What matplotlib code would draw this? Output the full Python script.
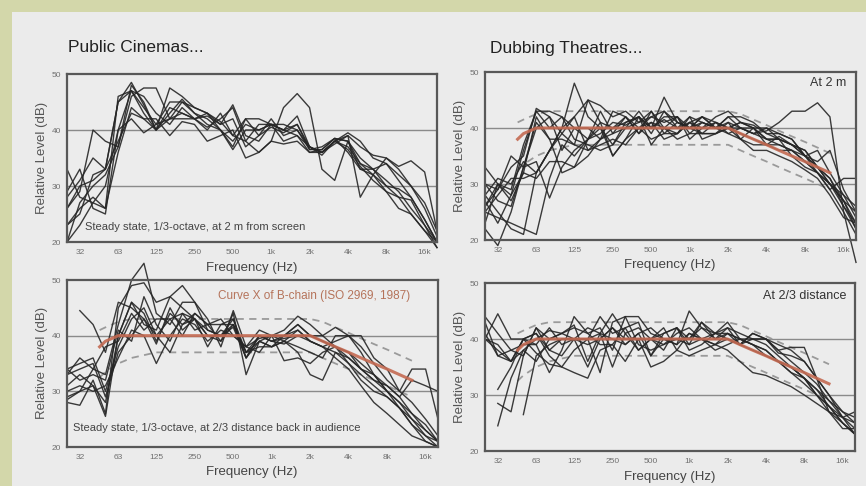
import numpy as np
import matplotlib
matplotlib.use("Agg")
import matplotlib.pyplot as plt
from matplotlib.patches import Rectangle

plt.rcParams['font.family'] = ['Liberation Sans', 'DejaVu Sans']

nan = np.nan
freqs = [25, 31.5, 40, 50, 63, 80, 100, 125, 160, 200, 250, 315, 400, 500, 630,
         800, 1000, 1250, 1600, 2000, 2500, 3150, 4000, 5000, 6300, 8000, 10000,
         12500, 16000, 20000]

tick_freqs = [32, 63, 125, 250, 500, 1000, 2000, 4000, 8000, 16000]
tick_labels = ['32', '63', '125', '250', '500', '1k', '2k', '4k', '8k', '16k']

# Public cinemas, 2 m from screen
cinema_2m = [
    [33, 28, 27, 26, 46, 47, 43, 40, 44, 43, 42, 42.5, 41, 44.5, 39, 38, 41, 41, 40, 36.5, 36.5, 38.5, 38, 34, 33, 31, 29, 26, 23, 19],
    [20, 27, 30, 32, 37, 48, 45, 40, 47.5, 46, 44, 43, 40, 37, 42, 42, 41, 40, 41, 37, 36, 38, 39.5, 38, 35, 34, 31, 28, 24, 20],
    [26, 29, 40, 38, 37, 46, 47.5, 47.5, 42, 43, 42, 43, 41.5, 39, 38, 36, 38, 44, 46.5, 44, 33, 31, 38, 35, 33, 30, 28, 25, 22, 19],
    [23, 25, 32, 33, 45, 47, 44, 41, 45, 45, 43, 42, 40, 38, 41, 40, 41, 40, 39, 37, 36, 38, 39, 28, 32, 35, 33, 30, 26, 21],
    [28, 31, 35, 33, 38, 43, 42, 40, 43, 45.5, 43, 41, 40, 36.5, 40, 40, 41, 40, 42.5, 37, 36, 38, 37, 34, 32, 30, 29.5, 28, 24, 20],
    [23, 26, 28, 26, 36, 44, 42, 42, 39, 41.5, 41, 38, 39, 40, 35, 36, 38, 37.5, 38, 36, 36.5, 38.5, 36, 33, 32, 29, 28, 27.5, 23, 20],
    [26, 30, 31, 33, 45, 48.5, 44.5, 40, 42, 45, 44, 43, 41, 42, 37, 39, 40.5, 39.5, 41, 36.5, 37, 38.5, 38, 33, 33, 34, 32, 30, 27, 22],
    [29, 33, 26, 25, 40, 42, 39.5, 41, 42, 42, 42, 40.5, 42, 44, 38, 41, 41, 38, 39, 36, 36, 37.5, 39, 37, 35.5, 35, 33.5, 34.5, 32.5, 22],
    [20, 23, 27, 30, 40, 47, 46, 43, 41, 44, 42, 40, 43, 39, 42, 39, 42, 39, 40, 37, 35.5, 38, 36.5, 33.5, 31, 29, 26, 25, 22, 20],
]

# Public cinemas, 2/3 distance back
cinema_23 = [
    [nan, 44.5, 42, 37, 46, 45, 43, 40, 43, 44, 43, 41, 40, 41.5, 36, 40, 39, 39.5, 40, 39, 38, 36, 34, 31, 28, 26, 24, 22, 21, 20],
    [33, 36, 34, 33, 42, 50, 53, 44, 42, 46, 46, 41, 40, 43, 37, 39, 38, 40, 42, 40, 39, 38, 37, 34, 32, 30, 28, 25, 22, 21],
    [28, 27.5, 32, 26, 45, 49, 49.5, 46, 47, 49, 46, 43, 38, 44.5, 38, 41, 40, 41, 43.5, 42, 40, 38, 35, 32, 30, 29, 27, 24, 21, 20],
    [34, 35, 36, 30, 38, 43, 45, 40, 37, 42, 44, 42, 42, 42, 37, 40, 39, 38.5, 40, 40, 40, 41.5, 40, 40, 36, 34, 30, 34, 34, 25],
    [31, 33, 31, 28, 40, 46, 42, 41, 47, 45, 43, 40, 39, 44, 33, 39, 40, 39, 37, 33, 32, 37, 35, 33, 31, 29, 27, 25, 23, 21],
    [30, 31, 30, 31, 36, 41, 40, 35, 40, 43, 42, 39, 41, 40, 38, 37, 40, 35.5, 36, 35, 37, 38, 36, 34, 32, 31, 29, 32, 31, 30],
    [28.5, 30, 34, 38, 39, 44, 41, 43, 43, 40, 44, 42, 39, 42, 37, 38, 38, 39, 41, 39, 38, 37, 36, 34, 33, 30, 28, 26, 24, 21],
    [34, 32, 33, 32, 41, 39, 47, 42, 39, 44, 41, 42, 43, 40, 38, 39.5, 40, 40, 41, 39, 38, 39, 40, 38, 35, 32, 30, 28, 25, 22],
    [33, 34, 35, 29, 37, 40, 43, 38.5, 45, 41, 43, 40, 40, 42, 36, 40, 39, 40, 42, 40, 39, 38, 37, 35, 33, 31, 29, 26, 23, 21],
    [29, 30, 31, 25.5, 40, 46, 44, 39, 44, 42, 43, 38, 42, 43, 36, 39, 38, 39, 38, 37, 36, 40, 40, 37, 33, 30, 27, 24, 22, 20],
]

# Dubbing theatres, 2 m
dubbing_2m = [
    [33, 30, 28, 36, 43, 43, 42, 40, 38, 39, 41, 40.5, 42, 40, 41.5, 40, 42, 41, 40, 41, 40, 39, 39.5, 41, 43, 43, 44.5, 42, 25, 16],
    [26, 29, 33, 35, 43.5, 42, 39, 37, 45, 44, 42, 43, 41, 42, 43, 40, 41, 40, 42, 43, 41, 40, 38, 38, 37, 35, 33, 30, 28, 24],
    [28, 25, 22, 21, 32, 36, 40, 48, 42, 40, 37, 40, 43, 40, 45.5, 41, 40, 42, 41, 39, 40, 39, 38, 37, 36, 34, 32, 30, 27, 22],
    [23, 30, 27, 32, 42, 38, 32, 33, 35, 38, 40, 42, 39, 43, 40, 39, 41, 42, 40, 42, 42, 41, 39, 38, 37, 36, 33, 31, 27, 23],
    [30, 29, 35, 33, 34, 27.5, 33, 36, 38, 41, 35, 38, 40, 41, 40, 42, 38, 40, 41, 40, 39, 38, 37, 38.5, 37, 35, 34, 36, 29, 25],
    [25, 28, 31, 31, 32, 36, 40, 42, 45, 41, 40, 41, 42, 40, 42, 42, 40, 42, 40, 40, 41, 40.5, 39, 39, 38, 35, 33, 30, 26, 23],
    [22, 19, 25, 33, 41, 38, 38, 37, 36, 38, 43, 42, 39, 41, 38, 39, 41, 39, 41, 40, 38, 37, 37, 36, 36, 34, 32, 30, 27, 25],
    [27, 23, 28, 32, 31, 34, 34, 33, 38, 43, 39, 40, 41, 43, 39, 41, 40, 39, 39, 40, 41, 40, 40, 38, 37, 36, 33, 31, 26, 22],
    [26, 30, 29, 37, 43, 40, 42, 38, 37, 36, 37, 41, 42, 39, 43, 41, 40, 41, 40, 42, 40, 40, 37, 37, 36, 35, 32, 29, 25, 21],
    [30, 27, 26, 33, 40, 42, 36, 40, 40, 38, 39, 42, 40, 42, 41, 42, 39, 41, 40, 39, 38, 40, 38, 38, 35, 33, 32, 29, 31, 31],
    [25, 24, 23, 22, 21, 31, 37, 35, 38, 40, 35, 38, 42, 37, 40, 38, 39, 39, 39, 41, 38, 36, 36, 35, 34, 32.5, 31, 28, 24, 23],
    [28, 31, 30, 34, 32, 36, 39, 42, 36, 37, 38, 37, 40, 38, 39, 39, 42, 38, 39, 40, 40, 39, 40, 39, 38, 35, 36, 32, 28, 26],
]

# Dubbing theatres, 2/3 distance
dubbing_23 = [
    [44, 41, 38, 37, 42, 40, 41, 40, 42, 41, 44.5, 41, 42, 40, 39, 41, 42, 40, 41, 43, 40, 40, 39, 37, 35, 33, 31, 29, 26, 23],
    [40, 44.5, 40, 40, 39, 34, 38, 44, 41, 42, 38, 44, 44, 41, 40, 39, 45, 42, 40, 41, 40, 39, 37, 36, 34, 32, 30, 27, 25, 23],
    [nan, 31, 35, 40, 41, 37, 35, 38, 40, 44, 41, 42, 38, 40, 41, 42, 40, 43, 41, 40, 39, 41, 40, 38, 38.5, 38.5, 33, 27, 24, 24],
    [nan, 28.5, 27, 37, 42, 38, 40, 40, 35, 40, 42, 39, 41, 37, 41, 42, 38, 39, 41, 41, 40, 39, 38, 36, 35, 33, 30, 28, 25, 23],
    [40, 38, 36, 38, 36, 40, 41, 42, 41, 39, 39, 42, 43, 37, 40, 40, 40, 42, 41, 42, 41, 40, 40, 39, 38, 36, 33, 30, 26, 25],
    [nan, 24.5, 33, 38, 40, 41.5, 41, 42.5, 36, 41, 35, 41, 38, 40, 38, 42, 39, 43, 40, 42, 39, 41, 40, 37.5, 37, 36, 33, 30, 27, 26],
    [43, 37, 36, 40, 37.5, 35.5, 35, 34, 33, 38, 39, 36, 40, 35, 36, 38, 37, 38, 39, 38, 36, 34, 33.5, 32.5, 31.5, 30, 28.5, 27, 26, 24],
    [nan, nan, nan, 26.5, 37, 39, 40, 40, 40, 34, 43, 44, 39, 38, 39, 40, 39, 40, 39, 40, 39, 38, 37, 36, 35, 33, 31, 28, 25, 23],
    [40, 39, 36, 40, 41, 38, 37, 40, 40, 41, 40, 39, 41, 42, 40, 39, 41, 40, 38, 39, 40, 39, 38, 36, 34, 33, 30, 28, 26, 27],
    [41, 37, 38, 39, 39, 42, 39, 40, 39, 40, 42, 40, 40, 40, 42, 38, 41, 40, 39, 41, 39, 40, 40, 38, 36, 34, 32, 29, 27, 25],
]

# X-curve (ISO 2969) and tolerance band
xcurve_freqs = [45, 50, 63, 80, 100, 125, 160, 200, 250, 315, 400, 500, 630, 800, 1000,
                1250, 1600, 2000, 2500, 3150, 4000, 5000, 6300, 8000, 10000, 12500]
xcurve = [38, 39, 40, 40, 40, 40, 40, 40, 40, 40, 40, 40, 40, 40, 40,
          40, 40, 40, 39, 38, 37, 36, 35, 34, 33, 32]
tol_upper = [41, 41.5, 42.5, 43, 43, 43, 43, 43, 43, 43, 43, 43, 43, 43, 43,
             43, 43, 43, 42.5, 41.5, 40.5, 39.5, 38.5, 37.5, 36.5, 35.5]
tol_lower = [32.5, 33.5, 35, 36, 36.5, 37, 37, 37, 37, 37, 37, 37, 37, 37, 37,
             37, 37, 37, 36, 35, 34, 33, 32, 31, 30, 29]

W, H = 866, 486
fig = plt.figure(figsize=(W / 100, H / 100), dpi=100)
fig.patch.set_facecolor('#d3d7aa')
fig.add_artist(Rectangle((12 / W, 0), 1, 1 - 12 / H, transform=fig.transFigure,
                         facecolor='#ebebeb', edgecolor='none', zorder=0))

def px_axes(l, t, r, b):
    return fig.add_axes([l / W, 1 - b / H, (r - l) / W, (b - t) / H])

def setup(ax, curves, show_x, xlab_y, ylab_x):
    ax.set_facecolor('#ececec')
    ax.set_xscale('log')
    ax.set_xlim(25, 20000)
    ax.set_ylim(20, 50)
    for y in (30, 40):
        ax.axhline(y, color='#8a8a8a', lw=1.0, zorder=1)
    for c in curves:
        ax.plot(freqs, c, color='#262626', lw=1.0, alpha=0.9, zorder=3, clip_on=False)
    if show_x:
        ax.plot(xcurve_freqs, tol_upper, color='#9a9a9a', lw=1.3, ls=(0, (4, 3)), zorder=2)
        ax.plot(xcurve_freqs, tol_lower, color='#9a9a9a', lw=1.3, ls=(0, (4, 3)), zorder=2)
        ax.plot(xcurve_freqs, xcurve, color='#c46a52', lw=2.2, alpha=0.9, zorder=4)
    ax.set_xticks(tick_freqs)
    ax.set_xticklabels(tick_labels)
    ax.xaxis.set_minor_locator(matplotlib.ticker.NullLocator())
    ax.set_yticks([20, 30, 40, 50])
    ax.tick_params(axis='both', length=0, labelsize=6, colors='#707070')
    ax.tick_params(axis='x', pad=5)
    ax.tick_params(axis='y', pad=4)
    for s in ax.spines.values():
        s.set_color('#585858')
        s.set_linewidth(1.6)
        s.set_zorder(5)

ax1 = px_axes(67, 74, 437, 242)
setup(ax1, cinema_2m, False, 268, 42)
ax2 = px_axes(485, 72, 856, 240)
setup(ax2, dubbing_2m, True, 266, 460)
ax3 = px_axes(67, 280, 438, 447)
setup(ax3, cinema_23, True, 472, 42)
ax4 = px_axes(485, 283, 855, 451)
setup(ax4, dubbing_23, True, 477, 460)

def ftext(x, y, s, **kw):
    fig.text(x / W, 1 - y / H, s, **kw)

# titles
ftext(68, 48, 'Public Cinemas...', fontsize=12.5, color='#222222', va='center')
ftext(490, 48, 'Dubbing Theatres...', fontsize=12.5, color='#222222', va='center')

# axis labels
for (x, y) in [(42, 158), (42, 363), (460, 156), (460, 367)]:
    ftext(x, y, 'Relative Level (dB)', fontsize=9.5, color='#555555',
          rotation=90, ha='center', va='center')
for (x, y) in [(252, 268), (670, 265), (252, 472), (670, 477)]:
    ftext(x, y, 'Frequency (Hz)', fontsize=9.5, color='#444444', ha='center', va='center')

# annotations
ftext(85, 227, 'Steady state, 1/3-octave, at 2 m from screen', fontsize=8,
      color='#444444', va='center')
ftext(73, 428, 'Steady state, 1/3-octave, at 2/3 distance back in audience', fontsize=8,
      color='#444444', va='center')
ftext(218, 296, 'Curve X of B-chain (ISO 2969, 1987)', fontsize=8.5,
      color='#b5735a', va='center')
ftext(846, 83, 'At 2 m', fontsize=9, color='#333333', ha='right', va='center')
ftext(846, 296, 'At 2/3 distance', fontsize=9, color='#333333', ha='right', va='center')

fig.savefig('out.png', dpi=100, facecolor=fig.get_facecolor())
